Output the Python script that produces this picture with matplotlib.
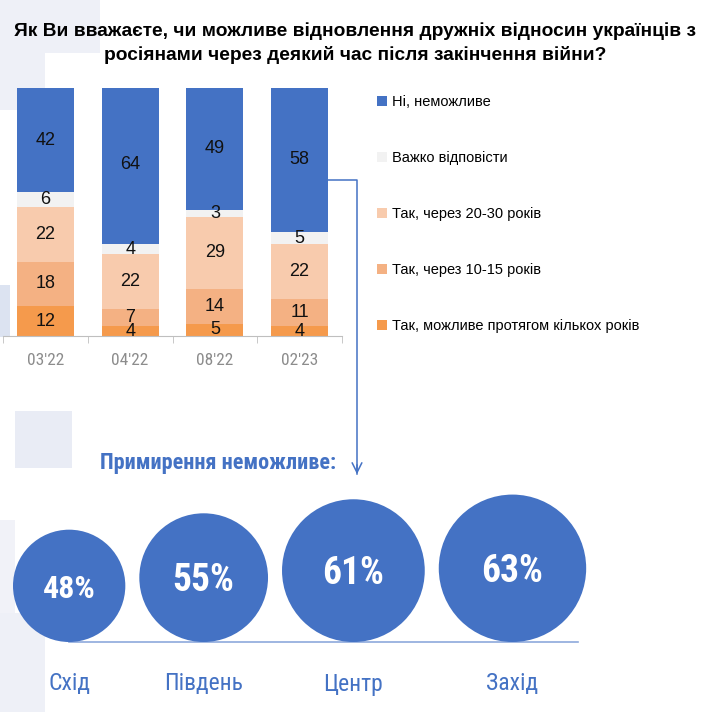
import matplotlib
matplotlib.use('Agg')
import matplotlib.pyplot as plt
from matplotlib.patches import Rectangle, Circle, Patch

# --- data -------------------------------------------------------------
waves = ["03'22", "04'22", "08'22", "02'23"]
answers = ["Так, можливе протягом кількох років", "Так, через 10-15 років",
           "Так, через 20-30 років", "Важко відповісти", "Ні, неможливе"]
vals_few_years = [12, 4, 5, 4]
vals_10_15 = [18, 7, 14, 11]
vals_20_30 = [22, 22, 29, 22]
vals_hard = [6, 4, 3, 5]
vals_no = [42, 64, 49, 58]
series = [vals_few_years, vals_10_15, vals_20_30, vals_hard, vals_no]

regions = ["Схід", "Південь", "Центр", "Захід"]
impossible = [48, 55, 61, 63]

title = ("Як Ви вважаєте, чи можливе відновлення дружніх відносин українців з\n"
         "росіянами через деякий час після закінчення війни?")

# --- style --------------------------------------------------------------
BLUE = "#4472C4"
colors = ["#F59A4C", "#F4B183", "#F8CBAD", "#F2F2F2", BLUE]
SANS = ["Liberation Sans", "DejaVu Sans"]
NARROW = ["Roboto Condensed", "DejaVu Sans"]
W, H = 706, 712

fig = plt.figure(figsize=(W / 100, H / 100), dpi=100)

# faint slide background blocks (pixel coords)
bg = fig.add_axes([0, 0, 1, 1], zorder=0)
bg.set_xlim(0, W)
bg.set_ylim(H, 0)
bg.axis("off")
for x, y, w, h, c in [(0, 0, 100, 53, "#EEF0F7"), (0, 53, 45, 57, "#EEF0F7"),
                      (0, 285, 10, 52, "#DCE3F1"), (15, 411, 57, 57, "#E9ECF5"),
                      (0, 520, 15, 93, "#F1F2F8"), (0, 613, 45, 99, "#EEF0F7")]:
    bg.add_patch(Rectangle((x, y), w, h, color=c, lw=0))

fig.text(355 / W, 1 - 22 / H, title, ha="center", va="top", fontsize=13.8,
         fontweight="bold", family=SANS, linespacing=1.42)

# --- stacked bars -------------------------------------------------------
ax = fig.add_axes([3 / W, 1 - 336 / H, 339 / W, 248 / H], zorder=1)
ax.set_facecolor("none")
xs = range(len(waves))
bottom = [0] * len(waves)
handles = []
for vals, col, lab in zip(series, colors, answers):
    ax.bar(xs, vals, bottom=bottom, width=0.67, color=col, zorder=2)
    for i, v in enumerate(vals):
        ax.text(i, bottom[i] + v / 2, str(v), ha="center", va="center",
                fontsize=13, family=SANS, color="#111111", zorder=3)
    bottom = [b + v for b, v in zip(bottom, vals)]
    handles.append(Patch(facecolor=col, edgecolor="none", label=lab))

ax.set_xlim(-0.5, len(waves) - 0.5)
ax.set_ylim(0, 100)
ax.set_yticks([])
for s in ["top", "right", "left"]:
    ax.spines[s].set_visible(False)
ax.spines["bottom"].set_color("#BFBFBF")
ax.set_xticks(list(xs))
ax.set_xticklabels(waves, fontsize=12.5, family=NARROW, color="#8C8C8C")
ax.tick_params(axis="x", which="major", length=0, pad=12)
ax.set_xticks([i - 0.5 for i in range(len(waves) + 1)], minor=True)
ax.tick_params(axis="x", which="minor", length=5, color="#BFBFBF")

leg = fig.legend(handles=handles[::-1], loc="upper left",
                 bbox_to_anchor=(377 / W, 1 - 95 / H), frameon=False,
                 prop={"family": SANS, "size": 10.5}, handlelength=0.7,
                 handleheight=0.7, handletextpad=0.35, labelspacing=2.88,
                 borderpad=0, borderaxespad=0)

# --- bubbles ------------------------------------------------------------
axc = fig.add_axes([0, 0, 1, 1], zorder=2)
axc.set_facecolor("none")
axc.set_xlim(0, W)
axc.set_ylim(H, 0)
axc.axis("off")

k = 1.17          # px of radius per percent
base_y = 642
left = 13
gap = 14
pct_sizes = [23, 27, 27, 27]
centers = []
for reg, v, fs in zip(regions, impossible, pct_sizes):
    r = k * v
    cx = left + r
    centers.append(cx)
    axc.add_patch(Circle((cx, base_y - r), r, color=BLUE, lw=0, zorder=2))
    axc.text(cx, base_y - r + 3, f"{v}%", ha="center", va="center",
             fontsize=fs, fontweight="bold", color="white", family=NARROW, zorder=3)
    axc.text(cx, 684, reg, ha="center", va="center", fontsize=17,
             color=BLUE, family=NARROW)
    left = cx + r + gap
axc.plot([centers[0], 578], [base_y, base_y], color="#8EA9DB", lw=1.2, zorder=1)

axc.text(100, 463, "Примирення неможливе:", ha="left", va="center",
         fontsize=16, fontweight="bold", color=BLUE, family=NARROW)

# connector from the last bar down to the bubbles
axc.plot([328, 357, 357], [180, 180, 474], color=BLUE, lw=1.1, zorder=1)
axc.annotate("", xy=(357, 477), xytext=(357, 462),
             arrowprops=dict(arrowstyle="->,head_length=0.7,head_width=0.35",
                             color=BLUE, lw=1.1))

fig.savefig("out.png", dpi=100)
